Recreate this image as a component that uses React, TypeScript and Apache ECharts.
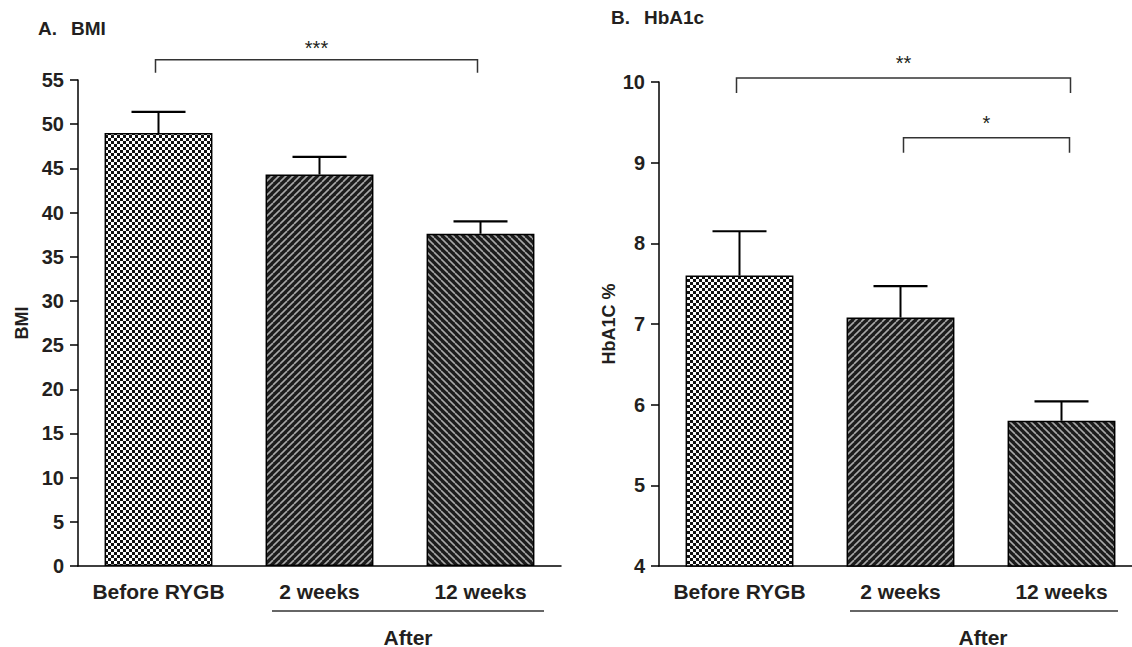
import React, { useEffect, useRef } from 'react';
import * as echarts from 'echarts';

const categories = ['Before RYGB', '2 weeks', '12 weeks'];
const bmiMean = [49.0, 44.3, 37.6];
const bmiSem = [2.4, 2.0, 1.4];
const hbMean = [7.6, 7.08, 5.8];
const hbSem = [0.55, 0.39, 0.24];

const bmiTicks = { min: 0, max: 55, interval: 5 };
const hbTicks = { min: 4, max: 10, interval: 1 };

const bmiBracketFrom = [0];
const bmiBracketTo = [2];
const bmiBracketY = [57.3];
const bmiBracketLabel = ['***'];

const hbBracketFrom = [0, 1];
const hbBracketTo = [2, 2];
const hbBracketY = [10.05, 9.31];
const hbBracketLabel = ['**', '*'];

const FONT = "'Liberation Sans', Arial, Helvetica, sans-serif";
const INK = '#231f20';

function makeChecker() {
  const c = document.createElement('canvas');
  c.width = 6; c.height = 6;
  const g = c.getContext('2d')!;
  g.fillStyle = '#ffffff';
  g.fillRect(0, 0, 6, 6);
  g.fillStyle = '#111111';
  g.fillRect(0, 0, 3, 3);
  g.fillRect(3, 3, 3, 3);
  return { image: c.toDataURL(), repeat: 'repeat', imageWidth: 6, imageHeight: 6 };
}

function makeStripes(dir: 'up' | 'down') {
  const s = 7;
  const c = document.createElement('canvas');
  c.width = s; c.height = s;
  const g = c.getContext('2d')!;
  g.fillStyle = '#1c1c1c';
  g.fillRect(0, 0, s, s);
  g.strokeStyle = '#a8a8a8';
  g.lineWidth = 1.6;
  for (const k of [-s, 0, s]) {
    g.beginPath();
    if (dir === 'up') {
      g.moveTo(k, s);
      g.lineTo(k + s, 0);
    } else {
      g.moveTo(k, 0);
      g.lineTo(k + s, s);
    }
    g.stroke();
  }
  return { image: c.toDataURL(), repeat: 'repeat', imageWidth: s, imageHeight: s };
}

export default function App() {
  const ref = useRef<HTMLDivElement>(null);

  useEffect(() => {
    if (!ref.current) return;
    const chart = echarts.init(ref.current, null, { renderer: 'svg' });
    const patterns = [makeChecker(), makeStripes('up'), makeStripes('down')];

    const barData = (vals: number[]) =>
      vals.map((v, i) => ({
        value: v,
        itemStyle: { color: patterns[i] as any, borderColor: '#000', borderWidth: 1.5 },
      }));

    const errRender = (params: any, api: any) => {
      const x = api.value(0);
      const m = api.value(1);
      const e = api.value(2);
      const base = api.coord([x, m]);
      const top = api.coord([x, m + e]);
      const half = 27;
      return {
        type: 'group',
        children: [
          { type: 'line', shape: { x1: base[0], y1: base[1], x2: top[0], y2: top[1] }, style: { stroke: '#000', lineWidth: 2 } },
          { type: 'line', shape: { x1: top[0] - half, y1: top[1], x2: top[0] + half, y2: top[1] }, style: { stroke: '#000', lineWidth: 2.2 } },
        ],
      };
    };

    const bracketRender = (labels: string[], leg: number, gap: number, dx: number[][]) => (params: any, api: any) => {
      const p1 = api.coord([api.value(0), api.value(2)]);
      const p2 = api.coord([api.value(1), api.value(2)]);
      const d = dx[params.dataIndex] || [0, 0];
      const xa = p1[0] + d[0];
      const xb = p2[0] + d[1];
      return {
        type: 'group',
        children: [
          {
            type: 'polyline',
            shape: { points: [[xa, p1[1] + leg], [xa, p1[1]], [xb, p2[1]], [xb, p2[1] + leg]] },
            style: { stroke: '#333', lineWidth: 1.5, fill: 'none' },
          },
          {
            type: 'text',
            style: {
              text: labels[params.dataIndex],
              x: (xa + xb) / 2,
              y: p1[1] - gap,
              align: 'center',
              verticalAlign: 'middle',
              textAlign: 'center',
              textVerticalAlign: 'middle',
              font: `normal 20px ${FONT}`,
              fill: INK,
            },
          },
        ],
      };
    };

    const xAxisBase = {
      type: 'category' as const,
      data: categories,
      axisTick: { show: false },
      axisLine: { lineStyle: { color: '#000', width: 1.5 } },
      axisLabel: {
        color: INK, fontFamily: FONT, fontWeight: 'bold' as const, fontSize: 21, margin: 15,
        interval: 0, hideOverlap: false,
      },
    };
    const yAxisBase = {
      type: 'value' as const,
      splitLine: { show: false },
      axisLine: { show: true, lineStyle: { color: '#000', width: 1.5 } },
      axisTick: { show: true, length: 8, lineStyle: { color: '#000', width: 1.5 } },
      axisLabel: { color: INK, fontFamily: FONT, fontWeight: 'bold' as const, fontSize: 20, margin: 14 },
      nameLocation: 'middle' as const,
      nameTextStyle: { color: INK, fontFamily: FONT, fontWeight: 'bold' as const, fontSize: 18 },
    };

    const txt = (text: string, x: number, y: number, size: number, align = 'left', weight = 'bold') => ({
      type: 'text',
      style: {
        text, x, y, align, verticalAlign: 'middle', textAlign: align, textVerticalAlign: 'middle',
        font: `${weight} ${size}px ${FONT}`, fill: INK,
      },
    });
    const hline = (x1: number, x2: number, y: number) => ({
      type: 'line',
      shape: { x1, y1: y, x2, y2: y },
      style: { stroke: '#333', lineWidth: 1.5 },
    });

    chart.setOption({
      animation: false,
      backgroundColor: '#ffffff',
      grid: [
        { left: 78, top: 80, width: 483, height: 486 },
        { left: 659, top: 82, width: 483, height: 484 },
      ],
      xAxis: [
        { ...xAxisBase, gridIndex: 0 },
        { ...xAxisBase, gridIndex: 1 },
      ],
      yAxis: [
        { ...yAxisBase, gridIndex: 0, ...bmiTicks, name: 'BMI', nameGap: 47 },
        { ...yAxisBase, gridIndex: 1, ...hbTicks, name: 'HbA1C %', nameGap: 41 },
      ],
      series: [
        { type: 'bar', xAxisIndex: 0, yAxisIndex: 0, barWidth: '67%', data: barData(bmiMean) },
        { type: 'bar', xAxisIndex: 1, yAxisIndex: 1, barWidth: '67%', data: barData(hbMean) },
        {
          type: 'custom', xAxisIndex: 0, yAxisIndex: 0, renderItem: errRender, z: 3,
          data: bmiMean.map((m, i) => [i, m, bmiSem[i]]),
        },
        {
          type: 'custom', xAxisIndex: 1, yAxisIndex: 1, renderItem: errRender, z: 3,
          data: hbMean.map((m, i) => [i, m, hbSem[i]]),
        },
        {
          type: 'custom', xAxisIndex: 0, yAxisIndex: 0, clip: false, z: 3,
          renderItem: bracketRender(bmiBracketLabel, 13, 12, [[-3, -3]]),
          data: bmiBracketFrom.map((f, i) => [f, bmiBracketTo[i], bmiBracketY[i]]),
        },
        {
          type: 'custom', xAxisIndex: 1, yAxisIndex: 1, clip: false, z: 3,
          renderItem: bracketRender(hbBracketLabel, 15, 15, [[-3, 9], [3, 8]]),
          data: hbBracketFrom.map((f, i) => [f, hbBracketTo[i], hbBracketY[i]]),
        },
      ],
      graphic: [
        txt('A.', 38, 28, 19),
        txt('BMI', 71, 28, 19),
        txt('B.', 611, 17, 19),
        txt('HbA1c', 644, 17, 19),
        hline(272, 544, 611),
        txt('After', 408, 637, 21, 'center'),
        hline(850, 1118, 611),
        txt('After', 983, 637, 21, 'center'),
      ],
    });

    return () => chart.dispose();
  }, []);

  return (
    <div style={{ position: 'absolute', left: 0, top: 0, width: 1132, height: 647, overflow: 'hidden', background: '#fff' }}>
      <div ref={ref} style={{ width: 1150, height: 647 }} />
    </div>
  );
}
